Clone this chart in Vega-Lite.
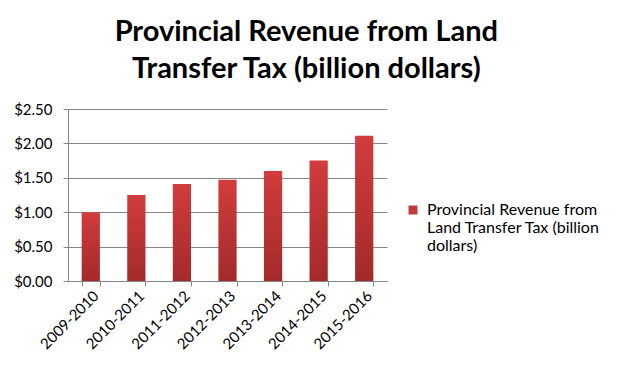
{
  "$schema": "https://vega.github.io/schema/vega-lite/v6.json",
  "width": 319,
  "height": 172,
  "padding": {"left": 13, "top": 18, "right": 5, "bottom": 5},
  "background": "white",
  "title": {
    "text": ["Provincial Revenue from Land", "Transfer Tax (billion dollars)"],
    "font": "Lato",
    "fontSize": 29,
    "fontWeight": "bold",
    "color": "#000000",
    "anchor": "middle",
    "frame": "bounds",
    "lineHeight": 37,
    "offset": 18,
    "dx": -1
  },
  "data": {
    "values": [
      {"year": "2009-2010", "revenue": 1.00, "series": "Provincial Revenue from\nLand Transfer Tax (billion\ndollars)"},
      {"year": "2010-2011", "revenue": 1.25, "series": "Provincial Revenue from\nLand Transfer Tax (billion\ndollars)"},
      {"year": "2011-2012", "revenue": 1.41, "series": "Provincial Revenue from\nLand Transfer Tax (billion\ndollars)"},
      {"year": "2012-2013", "revenue": 1.47, "series": "Provincial Revenue from\nLand Transfer Tax (billion\ndollars)"},
      {"year": "2013-2014", "revenue": 1.60, "series": "Provincial Revenue from\nLand Transfer Tax (billion\ndollars)"},
      {"year": "2014-2015", "revenue": 1.75, "series": "Provincial Revenue from\nLand Transfer Tax (billion\ndollars)"},
      {"year": "2015-2016", "revenue": 2.11, "series": "Provincial Revenue from\nLand Transfer Tax (billion\ndollars)"}
    ]
  },
  "encoding": {
    "x": {
      "field": "year",
      "type": "nominal",
      "sort": null,
      "title": null,
      "scale": {"paddingInner": 0.6, "paddingOuter": 0.3},
      "axis": {
        "labelAngle": -45,
        "tickBand": "extent",
        "tickSize": 5,
        "labelPadding": 2,
        "grid": false
      }
    },
    "y": {
      "field": "revenue",
      "type": "quantitative",
      "title": null,
      "scale": {"domain": [0, 2.5]},
      "axis": {
        "values": [0, 0.5, 1, 1.5, 2, 2.5],
        "format": "$.2f",
        "tickSize": 5,
        "labelPadding": 11,
        "grid": true
      }
    }
  },
  "layer": [
    {
      "mark": {
        "type": "bar",
        "color": {"gradient": "linear", "x1": 0, "y1": 0, "x2": 0, "y2": 1,
          "stops": [{"offset": 0, "color": "#d23c3c"}, {"offset": 1, "color": "#a32a2a"}]}
      }
    },
    {
      "mark": {"type": "bar", "opacity": 0},
      "encoding": {
        "color": {
          "field": "series",
          "type": "nominal",
          "title": null,
          "scale": {"range": ["#c0393b"]},
          "legend": {
            "orient": "none",
            "legendX": 337,
            "legendY": 93,
            "labelLimit": 0,
            "labelOffset": 6,
            "labelLineHeight": 21,
            "symbolType": "square",
            "symbolSize": 80,
            "symbolOpacity": 1,
            "symbolStrokeWidth": 0
          }
        }
      }
    }
  ],
  "config": {
    "view": {"stroke": null},
    "axis": {
      "labelFont": "Lato",
      "labelFontSize": 15,
      "labelColor": "#000000",
      "domainColor": "#868686",
      "tickColor": "#868686",
      "gridColor": "#868686",
      "gridOpacity": 1
    },
    "legend": {
      "labelFont": "Lato",
      "labelFontSize": 16,
      "labelColor": "#000000"
    },
    "lineBreak": "\n"
  }
}
